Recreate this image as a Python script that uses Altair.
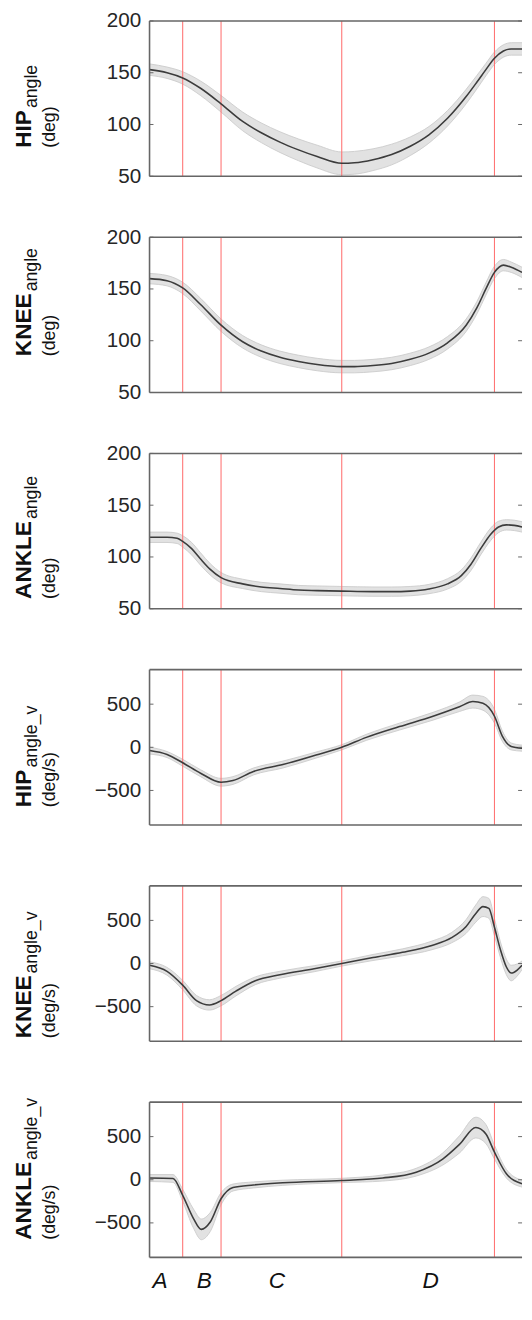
import altair as alt
import pandas as pd

FONT = "Liberation Sans"

# ---- data (time as % of visible window) ----
EVENTS = [8.9, 19.2, 51.6, 92.6]
LETTERS = ["A", "B", "C", "D"]
LETTER_T = [2.8, 14.7, 34.2, 75.5]

T1 = [0, 4.7, 8.9, 13.7, 19.2, 25, 30, 35, 40, 45, 51.6, 55, 60, 65, 70, 75, 80, 85, 87.9, 90.3, 92.6, 95, 97.1, 100]
HIP_M = [153, 150, 145, 135, 120, 103, 92, 83, 75.5, 69, 62.5, 63, 66, 71, 79, 90, 106, 127, 141, 153, 164, 171, 173, 173]
HIP_S = [5.5, 5.5, 6, 7, 8, 9, 9.5, 10, 10.5, 11, 11, 11, 10.5, 10, 9, 8, 7.5, 7, 6.5, 6, 6, 6, 6, 6]

KNEE_M = [160, 158, 151, 135, 115, 99, 90, 84, 80, 77, 75, 75, 76, 78, 82, 88, 98, 115, 132, 150, 166, 173, 171, 166]
KNEE_S = [5, 5, 5.5, 6, 6, 6, 6, 6, 6, 6, 6, 6, 6, 6, 6, 6, 6, 6, 6, 6, 6, 5.5, 5, 5]

T3 = [0, 4.7, 7.4, 8.9, 11.3, 13.7, 16.3, 19.2, 25, 30, 35, 40, 45, 51.6, 60, 65, 70, 75, 80, 83.7, 86.3, 88.9, 91.6, 93.7, 95.8, 97.9, 100]
ANK_M = [119, 119, 118, 115, 108, 98, 88, 80, 74, 71, 69.5, 68, 67.5, 67, 66.5, 66.5, 67, 69, 74, 82, 93, 108, 122, 129, 131, 130.5, 129]
ANK_S = [5, 5, 5, 5.5, 6, 6, 5.5, 5, 4.5, 4.5, 4.5, 4.5, 4.5, 4.5, 4.5, 4.5, 4.5, 4.5, 5, 5.5, 6, 6, 6, 5.5, 5, 5, 5]

T4 = [0, 4.7, 8.9, 13.7, 19.2, 22.4, 27.9, 35.8, 44.7, 51.6, 58.2, 67.1, 76.1, 83.2, 86.8, 89.5, 92.6, 94.7, 97.1, 100]
HIPV_M = [-38, -84, -179, -300, -405, -385, -280, -200, -90, 0, 115, 240, 360, 470, 530, 510, 360, 130, 10, -10]
HIPV_S = [40, 35, 40, 40, 45, 45, 40, 40, 35, 30, 35, 40, 45, 55, 75, 80, 80, 60, 40, 35]

T5 = [0, 4.7, 8.9, 12.6, 16.1, 19.2, 23.2, 28.4, 35, 44.2, 51.6, 60, 67.9, 75.8, 81.1, 85, 87.6, 89.5, 91.1, 92.6, 94.2, 95.8, 97.1, 98.7, 100]
KNEEV_M = [-20, -90, -250, -430, -480, -430, -320, -200, -130, -60, 0, 70, 130, 210, 300, 430, 580, 660, 640, 420, 160, -40, -110, -75, -20]
KNEEV_S = [40, 45, 55, 60, 60, 60, 55, 45, 40, 35, 30, 35, 40, 50, 60, 80, 100, 115, 115, 100, 90, 90, 90, 70, 50]

T6 = [0, 6.3, 8.9, 11.8, 13.9, 16.3, 19.2, 22.4, 27.9, 35.8, 51.6, 62.6, 71.6, 78.7, 83.2, 87.6, 90.3, 92.6, 95.8, 100]
ANKV_M = [20, 15, -180, -450, -575, -490, -220, -90, -60, -35, -8, 20, 88, 240, 410, 605, 530, 320, 70, -45]
ANKV_S = [40, 45, 70, 110, 120, 110, 70, 40, 35, 30, 25, 35, 45, 70, 100, 120, 110, 80, 50, 40]

PANELS = [
    ("HIP", "angle", "(deg)", T1, HIP_M, HIP_S, [50, 200], [50, 100, 150, 200], 129),
    ("KNEE", "angle", "(deg)", T1, KNEE_M, KNEE_S, [50, 200], [50, 100, 150, 200], 121),
    ("ANKLE", "angle", "(deg)", T3, ANK_M, ANK_S, [50, 200], [50, 100, 150, 200], 148),
    ("HIP", "angle_v", "(deg/s)", T4, HIPV_M, HIPV_S, [-900, 900], [-500, 0, 500], 140),
    ("KNEE", "angle_v", "(deg/s)", T5, KNEEV_M, KNEEV_S, [-900, 900], [-500, 0, 500], 155),
    ("ANKLE", "angle_v", "(deg/s)", T6, ANKV_M, ANKV_S, [-900, 900], [-500, 0, 500], 140),
]

W, H = 379, 158
MAIN_FS, SUB_FS, UNIT_FS = 23, 18, 18
ARIAL_B = {"H": .722, "I": .278, "P": .667, "K": .722, "N": .722, "E": .667, "A": .722, "L": .611}
BC = "#666666"


def one():
    return alt.Data(values=[{}])


def label(text, size, x, y, baseline, weight="normal"):
    return alt.Chart(one()).mark_text(
        text=text, fontSize=size, font=FONT, angle=270, align="left",
        baseline=baseline, color="#111111", fontWeight=weight
    ).encode(x=alt.value(x), y=alt.value(y))


def panel(name, sub, unit, ts, mean, sd, dom, ticks, start, last):
    df = pd.DataFrame({"t": ts, "m": mean})
    df["lo"] = [m - s for m, s in zip(mean, sd)]
    df["hi"] = [m + s for m, s in zip(mean, sd)]
    xs = alt.Scale(domain=[0, 100], nice=False, zero=False)
    ys = alt.Scale(domain=dom, nice=False, zero=False)
    yax = alt.Axis(values=ticks, ticks=False, domain=False, grid=False,
                   labelFont=FONT, labelFontSize=21, labelColor="#262626",
                   labelPadding=9, format="d")
    X = alt.X("t:Q", scale=xs, axis=None)

    def Y(f):
        return alt.Y(f, scale=ys, axis=yax, title=None)

    base = alt.Chart(df)
    band = base.mark_area(color="#e2e2e2", opacity=1, clip=True, interpolate="monotone").encode(
        x=X, y=Y("lo:Q"), y2=alt.Y2("hi:Q", title=None))
    e_lo = base.mark_line(color="#cbcbcb", strokeWidth=0.9, clip=True, interpolate="monotone").encode(
        x=X, y=Y("lo:Q"))
    e_hi = base.mark_line(color="#cbcbcb", strokeWidth=0.9, clip=True, interpolate="monotone").encode(
        x=X, y=Y("hi:Q"))
    red = alt.Chart(pd.DataFrame({"t": EVENTS})).mark_rule(
        color="#ff7575", strokeWidth=1.1).encode(x=X)
    line = base.mark_line(color="#3c3c3c", strokeWidth=1.6, clip=True, interpolate="monotone").encode(
        x=X, y=Y("m:Q"))
    tdf = alt.Chart(pd.DataFrame({"v": ticks}))
    tick_l = tdf.mark_rule(color=BC, strokeWidth=1).encode(
        x=alt.value(0), x2=alt.value(4), y=Y("v:Q"))
    tick_r = tdf.mark_rule(color=BC, strokeWidth=1).encode(
        x=alt.value(W - 4), x2=alt.value(W), y=Y("v:Q"))
    top = alt.Chart(one()).mark_rule(color=BC, strokeWidth=1.6).encode(
        x=alt.value(0), x2=alt.value(W), y=alt.value(0))
    bot = alt.Chart(one()).mark_rule(color=BC, strokeWidth=1.6).encode(
        x=alt.value(0), x2=alt.value(W), y=alt.value(H))
    left = alt.Chart(one()).mark_rule(color=BC, strokeWidth=1.6).encode(
        x=alt.value(0), y=alt.value(0), y2=alt.value(H))
    main_len = sum(ARIAL_B[c] for c in name) * MAIN_FS
    t_main = label(name, MAIN_FS, -139, start, "top", "bold")
    t_sub = label(sub, SUB_FS, -114.5, start - main_len - 2, "alphabetic")
    t_unit = label(unit, UNIT_FS, -96, start, "alphabetic")
    layers = [band, e_lo, e_hi, red, line, tick_l, tick_r, top, bot, left, t_main, t_sub, t_unit]
    if last:
        letters = alt.Chart(pd.DataFrame({"t": LETTER_T, "lab": LETTERS})).mark_text(
            font=FONT, fontSize=23, fontStyle="italic", baseline="alphabetic",
            align="center", color="#111111").encode(x=X, y=alt.value(189), text="lab:N")
        layers.append(letters)
    return alt.layer(*layers).properties(width=W, height=H)


charts = [panel(*p, last=(i == len(PANELS) - 1)) for i, p in enumerate(PANELS)]
chart = alt.vconcat(*charts, spacing=62, bounds="flush").properties(
    padding={"left": 4, "top": -10, "right": 0, "bottom": -13}
).configure_view(stroke="transparent")

chart.save("out.html", embed_options={"renderer": "svg", "actions": False})
